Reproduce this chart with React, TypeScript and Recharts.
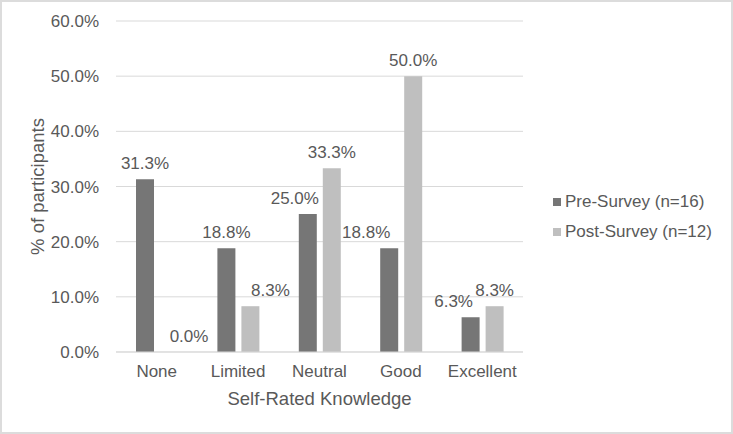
import React from 'react';
import { BarChart, Bar, XAxis, YAxis, CartesianGrid, Legend, LabelList } from 'recharts';

const categories = ['None', 'Limited', 'Neutral', 'Good', 'Excellent'];
const preSurvey = [31.3, 18.8, 25.0, 18.8, 6.3];
const postSurvey = [0.0, 8.3, 33.3, 50.0, 8.3];
const yTicks = [0, 10, 20, 30, 40, 50, 60];
const preName = 'Pre-Survey (n=16)';
const postName = 'Post-Survey (n=12)';

// label nudges (styling) to mimic manually moved data labels
const preLabelDx = [0, 0, -13, -23, -17];
const postLabelDx = [20, 20, 0, 0, 0];

const data = categories.map((c, i) => ({ cat: c, pre: preSurvey[i], post: postSurvey[i] }));

const FONT = '"Liberation Sans", Arial, sans-serif';
const TEXT = '#595959';
const PRE = '#767676';
const POST = '#bfbfbf';

const makeLabel = (dxs: number[]) => (props: any) => {
  const { x, y, width, value, index } = props;
  return (
    <text
      x={Number(x) + Number(width) / 2 + (dxs[index] || 0)}
      y={Number(y) - 16.5}
      dy="0.355em"
      textAnchor="middle"
      fontSize={17}
      fontFamily={FONT}
      fill={TEXT}
    >
      {`${Number(value).toFixed(1)}%`}
    </text>
  );
};

const LegendContent = () => (
  <div style={{ fontFamily: FONT, fontSize: 17, color: TEXT }}>
    {[
      { name: preName, color: PRE },
      { name: postName, color: POST },
    ].map((it) => (
      <div key={it.name} style={{ display: 'flex', alignItems: 'center', height: 30, whiteSpace: 'nowrap' }}>
        <span style={{ display: 'inline-block', width: 8, height: 8, background: it.color, marginRight: 4 }} />
        <span>{it.name}</span>
      </div>
    ))}
  </div>
);

export default function App() {
  return (
    <div
      style={{
        position: 'absolute',
        left: 0,
        top: 0,
        width: 733,
        height: 434,
        background: '#ffffff',
        boxSizing: 'border-box',
        border: '2px solid #dcdcdc',
        overflow: 'hidden',
      }}
    >
      <div style={{ position: 'absolute', left: -2, top: -2 }}>
        <BarChart
          width={733}
          height={434}
          data={data}
          margin={{ top: 21, right: 210, bottom: 22, left: 0 }}
          barSize={18}
          barGap={6}
        >
          <CartesianGrid vertical={false} stroke="#d9d9d9" strokeWidth={1} />
          <XAxis
            dataKey="cat"
            height={60}
            tickLine={false}
            axisLine={{ stroke: '#d9d9d9' }}
            tickSize={6}
            tickMargin={7}
            tick={{ fill: TEXT, fontSize: 17, fontFamily: FONT }}
            label={{
              content: () => (
                <text x={319.5} y={398} dy="0.355em" textAnchor="middle" fontSize={18.5} fontFamily={FONT} fill={TEXT}>
                  Self-Rated Knowledge
                </text>
              ),
            }}
          />
          <YAxis
            width={116}
            domain={[0, 60]}
            ticks={yTicks}
            interval={0}
            tickFormatter={(v: number) => `${v.toFixed(1)}%`}
            axisLine={false}
            tickLine={false}
            tickSize={6}
            tickMargin={11}
            tick={{ fill: TEXT, fontSize: 17, fontFamily: FONT }}
            label={{
              content: () => (
                <text
                  x={37}
                  y={186.5}
                  dy="0.355em"
                  textAnchor="middle"
                  fontSize={18.5}
                  fontFamily={FONT}
                  fill={TEXT}
                  transform="rotate(-90, 37, 186.5)"
                >
                  % of participants
                </text>
              ),
            }}
          />
          <Legend
            layout="vertical"
            align="center"
            verticalAlign="middle"
            content={() => <LegendContent />}
            wrapperStyle={{ left: 553, top: 187, width: 'auto' }}
          />
          <Bar dataKey="pre" name={preName} fill={PRE} isAnimationActive={false} minPointSize={0.01}>
            <LabelList dataKey="pre" content={makeLabel(preLabelDx)} />
          </Bar>
          <Bar dataKey="post" name={postName} fill={POST} isAnimationActive={false} minPointSize={0.01}>
            <LabelList dataKey="post" content={makeLabel(postLabelDx)} />
          </Bar>
        </BarChart>
      </div>
    </div>
  );
}
